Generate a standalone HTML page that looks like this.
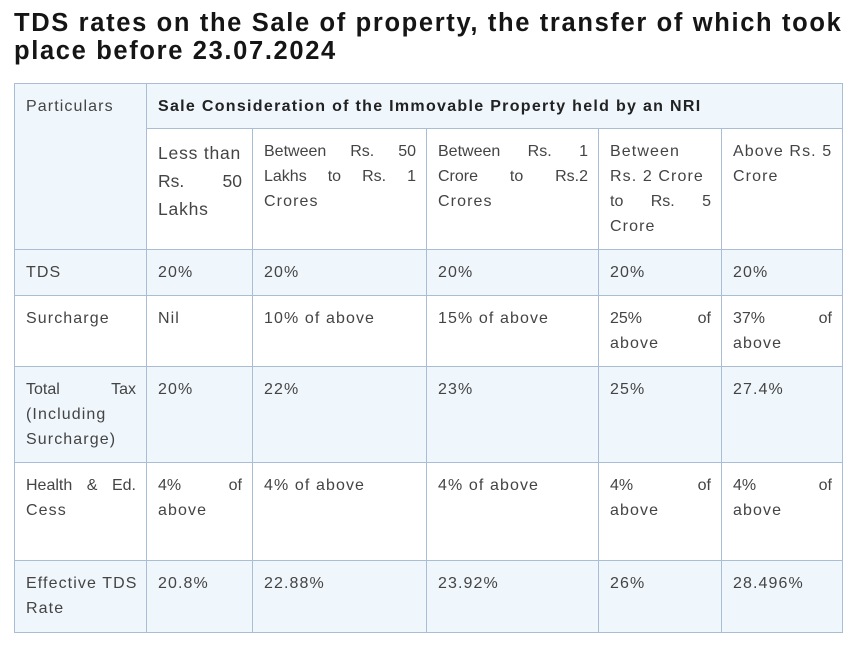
<!DOCTYPE html>
<html><head><style>
body{margin:0;width:865px;height:649px;background:#fff;font-family:"Liberation Sans",sans-serif;position:relative;overflow:hidden}
h1{position:absolute;left:14px;top:9px;margin:0;font-size:25.5px;line-height:28px;font-weight:bold;color:#151515;width:860px;letter-spacing:1.65px;white-space:nowrap}
.c{position:absolute;box-sizing:border-box;border:1px solid #a9bdd4;padding:10px 10px 0 11px;font-size:16px;line-height:25px;color:#444;letter-spacing:1.1px;white-space:nowrap}
.b{background:#eff6fc}
.j{display:block;text-align:justify;text-align-last:justify;white-space:normal;letter-spacing:0}
</style></head><body>
<h1>TDS rates on the Sale of property, the transfer of which took<br>place before 23.07.2024</h1>

<div class="c b" style="left:14px;top:83px;width:133px;height:167px">Particulars</div>
<div class="c b" style="left:146px;top:83px;width:697px;height:46px;font-weight:bold;color:#222;letter-spacing:1.3px">Sale Consideration of the Immovable Property held by an NRI</div>

<div class="c" style="left:146px;top:128px;width:107px;height:122px;font-size:17.5px;line-height:28px;letter-spacing:0.8px">Less than<span class="j">Rs. 50</span>Lakhs</div>
<div class="c" style="left:252px;top:128px;width:175px;height:122px"><span class="j">Between Rs. 50</span><span class="j">Lakhs to Rs. 1</span>Crores</div>
<div class="c" style="left:426px;top:128px;width:173px;height:122px"><span class="j">Between Rs. 1</span><span class="j">Crore to Rs.2</span>Crores</div>
<div class="c" style="left:598px;top:128px;width:124px;height:122px">Between<br>Rs. 2 Crore<span class="j">to Rs. 5</span>Crore</div>
<div class="c" style="left:721px;top:128px;width:122px;height:122px">Above Rs. 5<br>Crore</div>

<div class="c b" style="left:14px;top:249px;width:133px;height:47px">TDS</div>
<div class="c b" style="left:146px;top:249px;width:107px;height:47px">20%</div>
<div class="c b" style="left:252px;top:249px;width:175px;height:47px">20%</div>
<div class="c b" style="left:426px;top:249px;width:173px;height:47px">20%</div>
<div class="c b" style="left:598px;top:249px;width:124px;height:47px">20%</div>
<div class="c b" style="left:721px;top:249px;width:122px;height:47px">20%</div>

<div class="c" style="left:14px;top:295px;width:133px;height:72px">Surcharge</div>
<div class="c" style="left:146px;top:295px;width:107px;height:72px">Nil</div>
<div class="c" style="left:252px;top:295px;width:175px;height:72px">10% of above</div>
<div class="c" style="left:426px;top:295px;width:173px;height:72px">15% of above</div>
<div class="c" style="left:598px;top:295px;width:124px;height:72px"><span class="j">25% of</span>above</div>
<div class="c" style="left:721px;top:295px;width:122px;height:72px"><span class="j">37% of</span>above</div>

<div class="c b" style="left:14px;top:366px;width:133px;height:97px"><span class="j">Total Tax</span>(Including<br>Surcharge)</div>
<div class="c b" style="left:146px;top:366px;width:107px;height:97px">20%</div>
<div class="c b" style="left:252px;top:366px;width:175px;height:97px">22%</div>
<div class="c b" style="left:426px;top:366px;width:173px;height:97px">23%</div>
<div class="c b" style="left:598px;top:366px;width:124px;height:97px">25%</div>
<div class="c b" style="left:721px;top:366px;width:122px;height:97px">27.4%</div>

<div class="c" style="left:14px;top:462px;width:133px;height:99px"><span class="j">Health &amp; Ed.</span>Cess</div>
<div class="c" style="left:146px;top:462px;width:107px;height:99px"><span class="j">4% of</span>above</div>
<div class="c" style="left:252px;top:462px;width:175px;height:99px">4% of above</div>
<div class="c" style="left:426px;top:462px;width:173px;height:99px">4% of above</div>
<div class="c" style="left:598px;top:462px;width:124px;height:99px"><span class="j">4% of</span>above</div>
<div class="c" style="left:721px;top:462px;width:122px;height:99px"><span class="j">4% of</span>above</div>

<div class="c b" style="left:14px;top:560px;width:133px;height:73px">Effective TDS<br>Rate</div>
<div class="c b" style="left:146px;top:560px;width:107px;height:73px">20.8%</div>
<div class="c b" style="left:252px;top:560px;width:175px;height:73px">22.88%</div>
<div class="c b" style="left:426px;top:560px;width:173px;height:73px">23.92%</div>
<div class="c b" style="left:598px;top:560px;width:124px;height:73px">26%</div>
<div class="c b" style="left:721px;top:560px;width:122px;height:73px">28.496%</div>
</body></html>
